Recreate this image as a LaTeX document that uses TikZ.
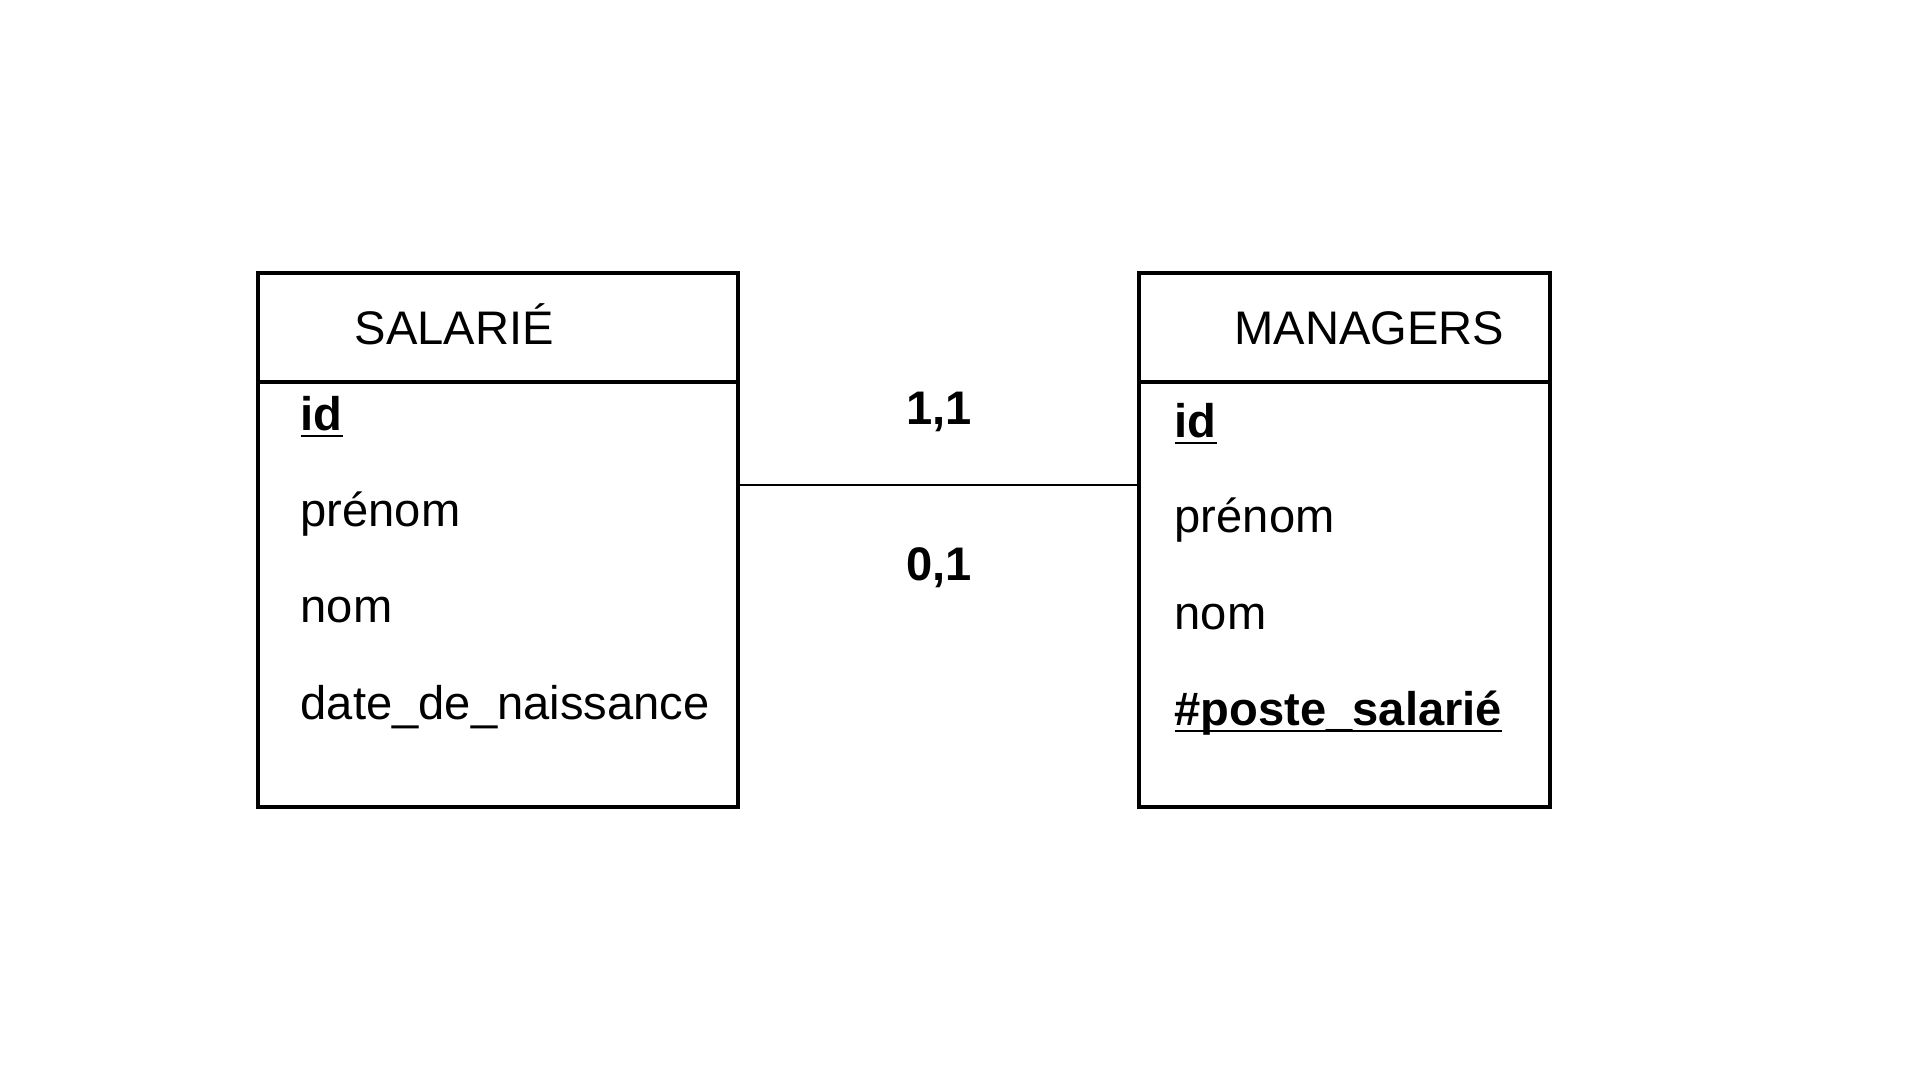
\documentclass[tikz,border=0pt]{standalone}
\usepackage{fontspec}
\setmainfont{Liberation Sans}
\usetikzlibrary{positioning}

\begin{document}
\begin{tikzpicture}[x=0.01cm, y=-0.01cm,
                    boite/.style = {draw, line width=1.15pt, inner sep=0pt, outer sep=0pt},
                    texte/.style = {inner sep=0pt, anchor=base west, font=\fontsize{13.4pt}{16pt}\selectfont},
                    card/.style = {inner sep=0pt, anchor=base, font=\fontsize{13.4pt}{16pt}\selectfont\bfseries}
                ]

                \useasboundingbox (0,0) rectangle (1920,1080);

                % tables
                \node[boite, minimum width=4.8cm, minimum height=1.09cm, anchor=north west] (salarie-tete) at (258,273) {};
                \node[boite, minimum width=4.8cm, minimum height=4.25cm, below=0pt of salarie-tete] (salarie) {};

                \node[boite, minimum width=4.11cm, minimum height=1.09cm, anchor=north west] (manager-tete) at (1139,273) {};
                \node[boite, minimum width=4.11cm, minimum height=4.25cm, below=0pt of manager-tete] (manager) {};

                \node[texte] (salarie-titre) at (354,345) {SALARIÉ};
                \node[texte] (manager-titre) at (1234,345) {MANAGERS};

                \node[texte] (s-id) at (300,431) {\underbar{\textbf{id}}};
                \node[texte] (s-prenom) at (300,527) {prénom};
                \node[texte] (s-nom) at (300,623) {nom};
                \node[texte] (s-date) at (300,720) {date\_de\_naissance};

                \node[texte] (m-id) at (1174,438) {\underbar{\textbf{id}}};
                \node[texte] (m-prenom) at (1174,533) {prénom};
                \node[texte] (m-nom) at (1174,630) {nom};
                \node[texte] (m-poste) at (1174,726) {\underbar{\textbf{\#poste\_salarié}}};

                % lien
                \coordinate (lien) at (0,485);
                \draw[line width=0.45pt] (salarie.east |- lien) -- (manager.west |- lien);

                \node[card] (card-haut) at (939,425) {1,1};
                \node[card] (card-bas) at (939,581) {0,1};

            \end{tikzpicture}
\end{document}
